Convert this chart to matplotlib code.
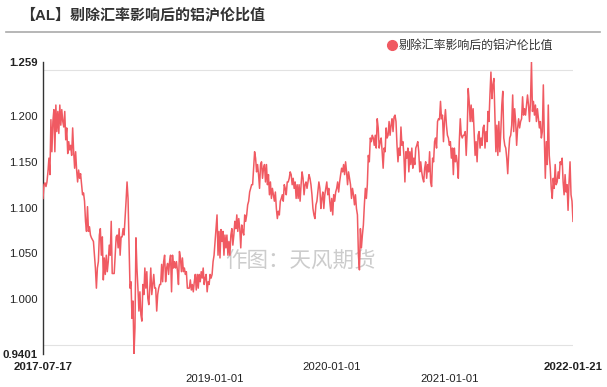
import matplotlib
matplotlib.use('Agg')
import matplotlib.pyplot as plt
import numpy as np
import pandas as pd
from matplotlib.lines import Line2D

# series, in time order (approx. every 3 days)
seg1 = [1.110, 1.125, 1.127, 1.123, 1.128, 1.139, 1.154, 1.136, 1.196, 1.161, 1.194, 1.207, 1.161, 1.212,
        1.183, 1.205, 1.181, 1.212, 1.190, 1.207, 1.194, 1.188, 1.205, 1.174, 1.187, 1.159, 1.172, 1.163,
        1.168, 1.157, 1.187, 1.161, 1.143, 1.161, 1.141, 1.128, 1.141, 1.132, 1.137, 1.125, 1.114, 1.116,
        1.107, 1.085, 1.074, 1.101, 1.074, 1.079, 1.070, 1.067, 1.065, 1.063, 1.048, 1.034, 1.012, 1.034,
        1.041, 1.070, 1.077, 1.048, 1.068, 1.021, 1.045, 1.027, 1.048, 1.030, 1.041, 1.059, 1.048, 1.085,
        1.028, 1.028, 1.028, 1.048, 1.068, 1.070, 1.056, 1.077, 1.048, 1.068, 1.068, 1.077, 1.070, 1.088]
seg2 = [1.107, 1.128, 1.110, 1.063, 1.012, 1.019, 0.979, 0.998, 0.9401, 0.968, 1.067, 1.034, 1.012, 0.987,
        1.008, 0.983, 0.976, 1.016, 1.005, 1.034, 1.012, 1.030, 1.001, 0.994, 1.012, 1.034, 1.005, 1.016,
        1.027, 1.012, 1.012, 0.987, 1.005, 1.012, 1.016, 1.016, 1.038, 1.019, 1.041, 1.048, 1.019, 1.034,
        1.039, 1.027, 1.041, 1.048, 1.008, 1.048, 1.034, 1.041, 1.034, 1.041, 1.030, 1.016, 1.052, 1.045,
        1.030, 1.045, 1.030, 1.034, 1.027, 1.030, 1.012, 1.012, 1.012, 1.021, 1.010, 1.016, 1.008, 1.019,
        1.027, 1.010, 1.027, 1.012, 1.027, 1.019, 1.030, 1.023, 1.034, 1.016, 1.023, 1.027, 1.008, 1.019,
        1.016, 1.027, 1.023, 1.027]
seg3 = [1.041, 1.048, 1.063, 1.077, 1.092, 1.048, 1.074, 1.045, 1.076, 1.063, 1.074, 1.048, 1.070, 1.056,
        1.070, 1.048, 1.063, 1.048, 1.070, 1.077, 1.059, 1.070, 1.085, 1.077, 1.092, 1.074, 1.088, 1.077,
        1.056, 1.081, 1.074, 1.070, 1.092, 1.085, 1.092, 1.103, 1.107, 1.117, 1.121, 1.125, 1.125, 1.143,
        1.161, 1.154, 1.139, 1.147, 1.136, 1.121, 1.147, 1.150, 1.132, 1.143, 1.147, 1.128, 1.147, 1.125,
        1.136, 1.114, 1.128, 1.110, 1.121, 1.114, 1.107, 1.117, 1.099, 1.088, 1.096, 1.092, 1.107, 1.110,
        1.114, 1.107, 1.125, 1.121, 1.114, 1.128, 1.128, 1.132, 1.139, 1.136, 1.125, 1.132, 1.121, 1.128,
        1.110]
seg4 = [1.125, 1.110, 1.125, 1.107, 1.125, 1.139, 1.132, 1.114, 1.125, 1.128, 1.121, 1.128, 1.136, 1.132,
        1.125, 1.114, 1.099, 1.092, 1.088, 1.103, 1.107, 1.117, 1.128, 1.121, 1.099, 1.110, 1.117, 1.099,
        1.114, 1.121, 1.128, 1.114, 1.121, 1.107, 1.096, 1.110, 1.092, 1.114, 1.107, 1.117, 1.121, 1.128,
        1.117, 1.128, 1.136, 1.143, 1.139, 1.147, 1.136, 1.150, 1.139, 1.125, 1.139, 1.132, 1.125, 1.110,
        1.121, 1.114, 1.103, 1.114, 1.099, 1.092, 1.048, 1.032, 1.077, 1.056, 1.070, 1.081, 1.103, 1.121,
        1.110, 1.125, 1.157, 1.150, 1.176, 1.172, 1.179, 1.176, 1.168, 1.179, 1.165, 1.197, 1.187, 1.165,
        1.172, 1.176]
seg5 = [1.161, 1.143, 1.165, 1.161, 1.187, 1.176, 1.179, 1.194, 1.179, 1.190, 1.197, 1.183, 1.199, 1.201,
        1.194, 1.168, 1.150, 1.165, 1.157, 1.188, 1.168, 1.172, 1.157, 1.128, 1.161, 1.154, 1.165, 1.139,
        1.161, 1.147, 1.165, 1.143, 1.154, 1.147, 1.165, 1.168, 1.172, 1.161, 1.139, 1.150, 1.139, 1.132,
        1.128, 1.143, 1.150, 1.132, 1.147, 1.139, 1.161, 1.128, 1.123, 1.154, 1.150, 1.172, 1.176, 1.165,
        1.194, 1.197, 1.196, 1.216, 1.197, 1.201, 1.172, 1.194, 1.207, 1.190, 1.179, 1.176, 1.168, 1.172,
        1.154, 1.165, 1.136, 1.165, 1.150, 1.157, 1.148, 1.132, 1.172, 1.197, 1.179, 1.176, 1.179, 1.179,
        1.183]
seg6 = [1.157, 1.183, 1.230, 1.216, 1.194, 1.212, 1.194, 1.208, 1.183, 1.157, 1.172, 1.150, 1.179, 1.183,
        1.165, 1.176, 1.168, 1.187, 1.190, 1.165, 1.183, 1.172, 1.205, 1.194, 1.223, 1.248, 1.219, 1.234,
        1.241, 1.201, 1.161, 1.190, 1.157, 1.194, 1.161, 1.183, 1.212, 1.227, 1.176, 1.168, 1.165, 1.154,
        1.137, 1.161, 1.176, 1.179, 1.190, 1.223, 1.183, 1.208, 1.194, 1.168, 1.187, 1.197, 1.187, 1.194,
        1.197, 1.221, 1.201, 1.208, 1.201, 1.212, 1.223, 1.212, 1.194, 1.216, 1.259, 1.205, 1.216, 1.201,
        1.212, 1.194, 1.208, 1.197, 1.187, 1.194, 1.176, 1.183, 1.234, 1.176, 1.132, 1.172, 1.147, 1.212,
        1.157, 1.143, 1.121, 1.110, 1.132, 1.121, 1.147, 1.125, 1.128, 1.139, 1.132, 1.150, 1.147, 1.154,
        1.128, 1.114, 1.136, 1.117, 1.125, 1.097, 1.128, 1.150, 1.114, 1.107, 1.085]

start_date = '2017-07-17'
end_date = '2022-01-21'
year_marks = ['2019-01-01', '2020-01-01', '2021-01-01']
y_min, y_max = 0.9401, 1.259
y_labels = [0.9401, 1.0, 1.05, 1.1, 1.15, 1.2, 1.259]

title = '【AL】剔除汇率影响后的铝沪伦比值'
series_name = '剔除汇率影响后的铝沪伦比值'
line_color = '#F05A62'

plt.rcParams['font.family'] = ['Liberation Sans', 'Noto Sans CJK SC', 'DejaVu Sans']

values = np.array(seg1 + seg2 + seg3 + seg4 + seg5 + seg6)
dates = pd.date_range(start_date, end_date, periods=len(values))

fig = plt.figure(figsize=(6.07, 3.87), dpi=100)
ax = fig.add_axes([43/607, 1-354/387, 530/607, 292/387])

ax.plot(dates, values, color=line_color, lw=1.1, zorder=3)
ax.set_xlim(dates[0], dates[-1])
ax.set_ylim(y_min, y_max)

for s in ['top', 'right', 'bottom']:
    ax.spines[s].set_visible(False)
ax.spines['left'].set_color('#333333')
ax.spines['left'].set_linewidth(1)

# y axis
ax.set_yticks(y_labels)
ax.set_yticklabels(['0.9401', '1.000', '1.050', '1.100', '1.150', '1.200', '1.259'])
ax.set_yticks(np.arange(0.95, 1.2501, 0.05), minor=True)

# x axis, staggered labels
x_ticks = [pd.Timestamp(start_date)] + [pd.Timestamp(d) for d in year_marks] + [pd.Timestamp(end_date)]
x_text = [start_date, '\n' + year_marks[0], year_marks[1], '\n' + year_marks[2], end_date]
ax.set_xticks(x_ticks)
ax.set_xticklabels(x_text)
ax.set_xticks([pd.Timestamp(d) for d in year_marks], minor=True)

ax.tick_params(which='both', length=0, labelsize=8.2, labelcolor='#222222')
ax.tick_params(axis='y', pad=4)
ax.tick_params(axis='x', pad=6)
for lab in ax.get_xticklabels():
    lab.set_verticalalignment('top')
for labs in [ax.get_xticklabels(), ax.get_yticklabels()]:
    labs[0].set_fontweight('bold')
    labs[-1].set_fontweight('bold')

ax.grid(False, which='major')
ax.grid(True, which='minor', color='#e2e2e2', lw=0.8)
ax.set_axisbelow(True)

# watermark
ax.text(0.485, 0.32, '作图：天风期货', transform=ax.transAxes, fontsize=15.5, color='#cccccc',
        ha='center', va='center', family=['Noto Sans CJK SC'], zorder=2)

# title and separator
fig.text(20/607, 1-15/387, title, fontsize=10.8, fontweight='bold', color='#333333', va='center')
fig.add_artist(Line2D([6/607, 600/607], [1-32/387, 1-32/387], color='#aaaaaa', lw=1.2))

handle = Line2D([], [], marker='o', ls='none', color=line_color, markersize=7)
fig.legend([handle], [series_name], loc='center left', bbox_to_anchor=(386/607, 1-46/387),
           frameon=False, fontsize=8.6, handletextpad=0.1, borderaxespad=0, borderpad=0,
           handlelength=1, labelcolor='#333333')

fig.savefig('out.png', dpi=100)
